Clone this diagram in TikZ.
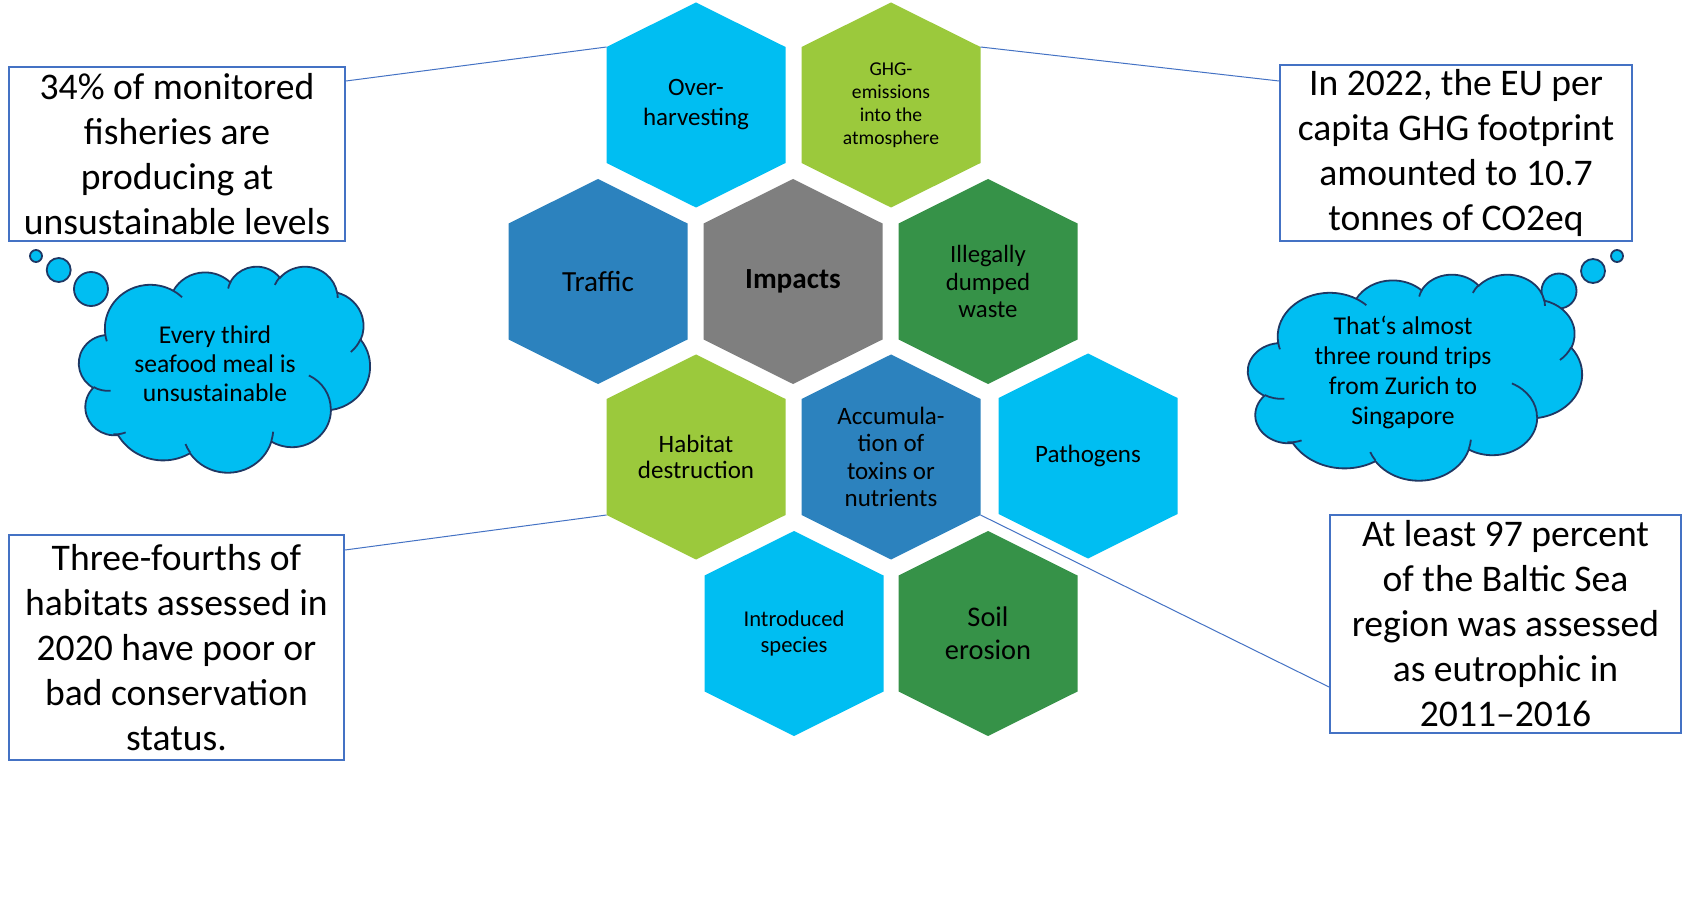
\documentclass[tikz,border=0pt]{standalone}
\usepackage{fontspec}
\setmainfont{Carlito}
\usetikzlibrary{calc}
\definecolor{hcyan}{HTML}{00BEF2}
\definecolor{hlime}{HTML}{9BC93C}
\definecolor{hblue}{HTML}{2C82BE}
\definecolor{hgray}{HTML}{7F7F7F}
\definecolor{hgreen}{HTML}{369248}
\definecolor{linkblue}{HTML}{4472C4}
\definecolor{cloudedge}{HTML}{1F3864}
\newcommand\fsz[2]{\fontsize{#1}{#2}\selectfont}
\tikzset{
  hextext/.style={align=center, inner sep=0pt, text=black},
  factbox/.style={draw=linkblue, line width=1pt, align=center, inner sep=0pt, text=black, font=\fsz{18.8}{22.5}},
  link/.style={draw=linkblue, line width=0.5pt},
  cloudstyle/.style={draw=cloudedge, fill=hcyan, line width=0.9pt},
  cloudline/.style={draw=cloudedge, line width=0.9pt},
  cloudtext/.style={align=center, inner sep=0pt, text=black},
  ooarc/.style n args={4}{insert path={arc[x radius=#1, y radius=#2,
     start angle={atan2((#1)*sin(#3),(#2)*cos(#3))},
     delta angle={mod(atan2((#1)*sin((#3)+(#4)),(#2)*cos((#3)+(#4)))-atan2((#1)*sin(#3),(#2)*cos(#3))+720,360)}]}},
}
\newcommand\hexcell[6]{%
  \fill[#4] (#2,#3) ++(0,-102.5) -- ++(89.5,44.5) -- ++(0,116) -- ++(-89.5,44.5) -- ++(-89.5,-44.5) -- ++(0,-116) -- cycle;
  \path (#2,#3) ++(-89.5,-58) coordinate (#1-ul) ++(179,0) coordinate (#1-ur) ++(0,116) coordinate (#1-lr) ++(-179,0) coordinate (#1-ll);
  \node[hextext, font={#5}] (#1) at (#2,#3) {#6};
}
\newcommand\ppcloud[4]{%
\begin{scope}[shift={(#1,#2)}, xscale=#3/432, yscale=#4/432]
\draw[cloudstyle] (39,143.7)
 [ooarc={67.53}{91.90}{-190.4875}{123.7805}]
 [ooarc={53.33}{72.67}{-144.1024}{89.9452}]
 [ooarc={43.65}{59.45}{-145.8079}{99.7230}]
 [ooarc={48.57}{65.95}{-130.9861}{117.2417}]
 [ooarc={53.33}{72.73}{-78.7089}{109.0269}]
 [ooarc={67.75}{92.20}{-46.2673}{130.2690}]
 [ooarc={57.85}{78.67}{0.6250}{114.0333}]
 [ooarc={67.52}{92.15}{22.4516}{115.1726}]
 [ooarc={77.20}{105.43}{66.2426}{75.7110}]
 [ooarc={43.60}{59.18}{-274.9421}{146.7356}]
 [ooarc={43.45}{59.45}{-246.8285}{152.5189}] -- cycle;
\draw[cloudline]
 (46.93,261.77) [ooarc={43.45}{59.45}{86.7420}{26.4295}]
 (69.28,348.99) [ooarc={43.60}{59.18}{73.6105}{18.4134}]
 (164.78,390.90) [ooarc={67.52}{92.15}{137.6242}{14.0811}]
 (288.27,347.51) [ooarc={67.52}{92.15}{6.4533}{15.9984}]
 (341.29,229.54) [ooarc={57.85}{78.67}{-70.2924}{70.9174}]
 (417.98,153.54) [ooarc={53.33}{72.73}{30.3180}{27.7515}]
 (383.24,54.26) [ooarc={48.57}{65.95}{-13.7443}{14.8589}]
 (290.78,39.52) [ooarc={48.57}{65.95}{-149.1815}{18.1954}]
 (221.41,47.20) [ooarc={43.65}{59.45}{-163.4943}{17.6864}]
 (140.00,51.92) [ooarc={67.53}{91.90}{-66.7070}{12.3194}]
 (41.27,157.89) [ooarc={67.53}{91.90}{157.6544}{11.8582}];
\end{scope}}
\begin{document}
\begin{tikzpicture}[x=0.5pt, y=-0.5pt]
\useasboundingbox (0,0) rectangle (1690,914);
\fill[white] (0,0) rectangle (1690,914);
% hexagons
\hexcell{oh}{696}{105}{hcyan}{\fsz{12.5}{15}}{Over-\\harvesting}
\hexcell{ghg}{891}{105}{hlime}{\fsz{9.8}{11.5}}{GHG-\\emissions\\into the\\atmosphere}
\hexcell{tr}{598}{281.5}{hblue}{\fsz{14.6}{17}}{Traffic}
\hexcell{im}{793}{281.5}{hgray}{\fsz{14.6}{17}\bfseries}{Impacts}
\hexcell{il}{988}{281.5}{hgreen}{\fsz{12.4}{13.8}}{Illegally\\dumped\\waste}
\hexcell{hd}{696}{457}{hlime}{\fsz{12.5}{13.4}}{Habitat\\destruction}
\hexcell{ac}{891}{457}{hblue}{\fsz{12.5}{13.6}}{Accumula-\\tion of\\toxins or\\nutrients}
\hexcell{pa}{1088}{456}{hcyan}{\fsz{12.5}{14}}{Pathogens}
\hexcell{is}{794}{633.5}{hcyan}{\fsz{11.3}{13}}{Introduced\\species}
\hexcell{se}{988}{633.5}{hgreen}{\fsz{14.2}{16.5}}{Soil\\erosion}
% fact boxes
\node[factbox, minimum width=168pt, minimum height=87pt] (b1) at (177,154) {34\% of monitored\\fisheries are\\producing at\\unsustainable levels};
\node[factbox, minimum width=176pt, minimum height=88pt] (b2) at (1456,153) {In 2022, the EU per\\capita GHG footprint\\amounted to 10.7\\tonnes of CO2eq};
\node[factbox, minimum width=167.5pt, minimum height=112.5pt] (b3) at (176.5,647.5) {Three-fourths of\\habitats assessed in\\2020 have poor or\\bad conservation\\status.};
\node[factbox, minimum width=175.5pt, minimum height=109pt] (b4) at (1505.5,624) {At least 97 percent\\of the Baltic Sea\\region was assessed\\as eutrophic in\\2011--2016};
% connectors
\coordinate (b1c) at ($(b1.north east)+(0,15)$);
\coordinate (b2c) at ($(b2.north west)+(0,17)$);
\coordinate (b3c) at ($(b3.north east)+(0,16)$);
\coordinate (b4c) at ($(b4.north west)+(0,173)$);
\draw[link] (b1c) -- (oh-ul);
\draw[link] (ghg-ur) -- (b2c);
\draw[link] (b3c) -- (hd-ll);
\draw[link] (ac-lr) -- (b4c);
% left thought cloud
\draw[cloudstyle] (36,256) circle[radius=6];
\draw[cloudstyle] (58.7,270) circle[radius=12];
\draw[cloudstyle] (91,289) circle[radius=17];
\ppcloud{79}{266}{291}{206}
\node[cloudtext, font=\fsz{12.8}{14.5}] (ct1) at (215,364) {Every third\\seafood meal is\\unsustainable};
% right thought cloud
\draw[cloudstyle] (1617,256) circle[radius=6];
\draw[cloudstyle] (1593,271) circle[radius=12];
\draw[cloudstyle] (1559,291) circle[radius=17.5];
\ppcloud{1248}{274}{334}{206}
\node[cloudtext, font=\fsz{12.8}{15}] (ct2) at (1403,372) {That‘s almost\\three round trips\\from Zurich to\\Singapore};
\end{tikzpicture}
\end{document}
